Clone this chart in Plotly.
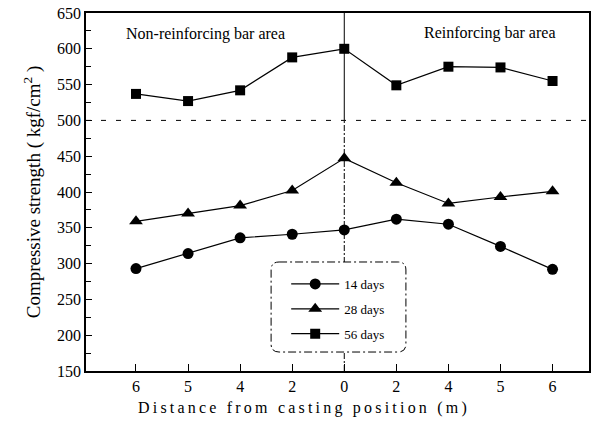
import plotly.graph_objects as go

# Distance from the casting position (m); left half = non-reinforcing, right half = reinforcing
distance_labels = ["6", "5", "4", "2", "0", "2", "4", "5", "6"]
positions = list(range(len(distance_labels)))

# Compressive strength (kgf/cm^2) by curing age
strength_14d = [293, 314, 336, 341, 347, 362, 355, 324, 292]
strength_28d = [359, 370, 381, 402, 447, 413, 384, 393, 401]
strength_56d = [537, 527, 542, 588, 600, 549, 575, 574, 555]

series = [
    ("14 days", strength_14d, "circle", 11),
    ("28 days", strength_28d, "triangle-up", 12),
    ("56 days", strength_56d, "square", 10),
]

FONT = "Liberation Serif, Times New Roman, serif"
THIN = "\u2009"


def spaced(text):
    """Loosen the tracking of a label with thin spaces between glyphs."""
    return THIN.join(text)


fig = go.Figure()
for name, vals, sym, size in series:
    fig.add_trace(go.Scatter(
        x=positions, y=vals, name=name, mode="lines+markers",
        line=dict(color="black", width=1.2),
        marker=dict(symbol=sym, size=size, color="black"),
        legendgroup=name,
    ))

# Casting position divider (solid above the 500 level, broken below) and the 500 level
fig.add_shape(type="line", xref="x", yref="y", x0=4, x1=4, y0=500, y1=650,
              line=dict(color="black", width=1), layer="below")
fig.add_shape(type="line", xref="x", yref="y", x0=4, x1=4, y0=150, y1=500,
              line=dict(color="black", width=1, dash="6px,2px,2px,2px"), layer="below")
fig.add_shape(type="line", xref="paper", yref="y", x0=0, x1=1, y0=500, y1=500,
              line=dict(color="black", width=1, dash="5px,10px"), layer="below")

# Rounded dashed frame around the legend
x0, x1, y0, y1 = 0.368, 0.636, 0.053, 0.3045
rx, ry = 8 / 505, 8 / 358
path = (f"M {x0+rx},{y1} L {x1-rx},{y1} Q {x1},{y1} {x1},{y1-ry} "
        f"L {x1},{y0+ry} Q {x1},{y0} {x1-rx},{y0} "
        f"L {x0+rx},{y0} Q {x0},{y0} {x0},{y0+ry} "
        f"L {x0},{y1-ry} Q {x0},{y1} {x0+rx},{y1} Z")
fig.add_shape(type="path", xref="paper", yref="paper", path=path,
              fillcolor="white", line=dict(color="black", width=1, dash="8px,3px,2px,3px"),
              layer="above")

fig.add_annotation(x=1.34, y=621, xref="x", yref="y", text="Non-reinforcing bar area",
                   showarrow=False, font=dict(family=FONT, size=16, color="black"))
fig.add_annotation(x=6.78, y=622, xref="x", yref="y", text="Reinforcing bar area",
                   showarrow=False, font=dict(family=FONT, size=16, color="black"))

# Horizontal axis title
fig.add_annotation(x=(303 - 86) / 505, y=-0.103, xref="paper", yref="paper",
                   xanchor="center", yanchor="middle", showarrow=False,
                   text=spaced("Distance from casting position (m)"),
                   font=dict(family=FONT, size=16, color="black"))

fig.update_layout(
    width=595, height=424,
    margin=dict(l=86, r=4, t=13, b=53),
    paper_bgcolor="white", plot_bgcolor="white",
    font=dict(family=FONT, size=16, color="black"),
    showlegend=True,
    legend=dict(x=0.398, y=0.285, xanchor="left", yanchor="top",
                bgcolor="rgba(0,0,0,0)", borderwidth=0,
                font=dict(family=FONT, size=13), itemwidth=48,
                tracegroupgap=5),
    xaxis=dict(
        range=[-0.96, 8.7], tickvals=positions, ticktext=distance_labels,
        showline=True, linecolor="black", linewidth=1.5, mirror=True,
        ticks="inside", ticklen=7, tickwidth=1.2, tickcolor="black",
        tickfont=dict(family=FONT, size=16),
        showgrid=False, zeroline=False,
    ),
    yaxis=dict(
        range=[150, 650], tickvals=list(range(150, 651, 50)),
        showline=True, linecolor="black", linewidth=1.5, mirror=True,
        ticks="inside", ticklen=6, tickwidth=1.2, tickcolor="black",
        tickfont=dict(family=FONT, size=16),
        minor=dict(ticks="inside", ticklen=5, tickcolor="black", dtick=25, showgrid=False),
        showgrid=False, zeroline=False,
        title=dict(text="Compressive strength ( kgf/cm<sup>2</sup> )",
                   font=dict(family=FONT, size=19), standoff=11),
    ),
)

fig.write_html("out.html")
